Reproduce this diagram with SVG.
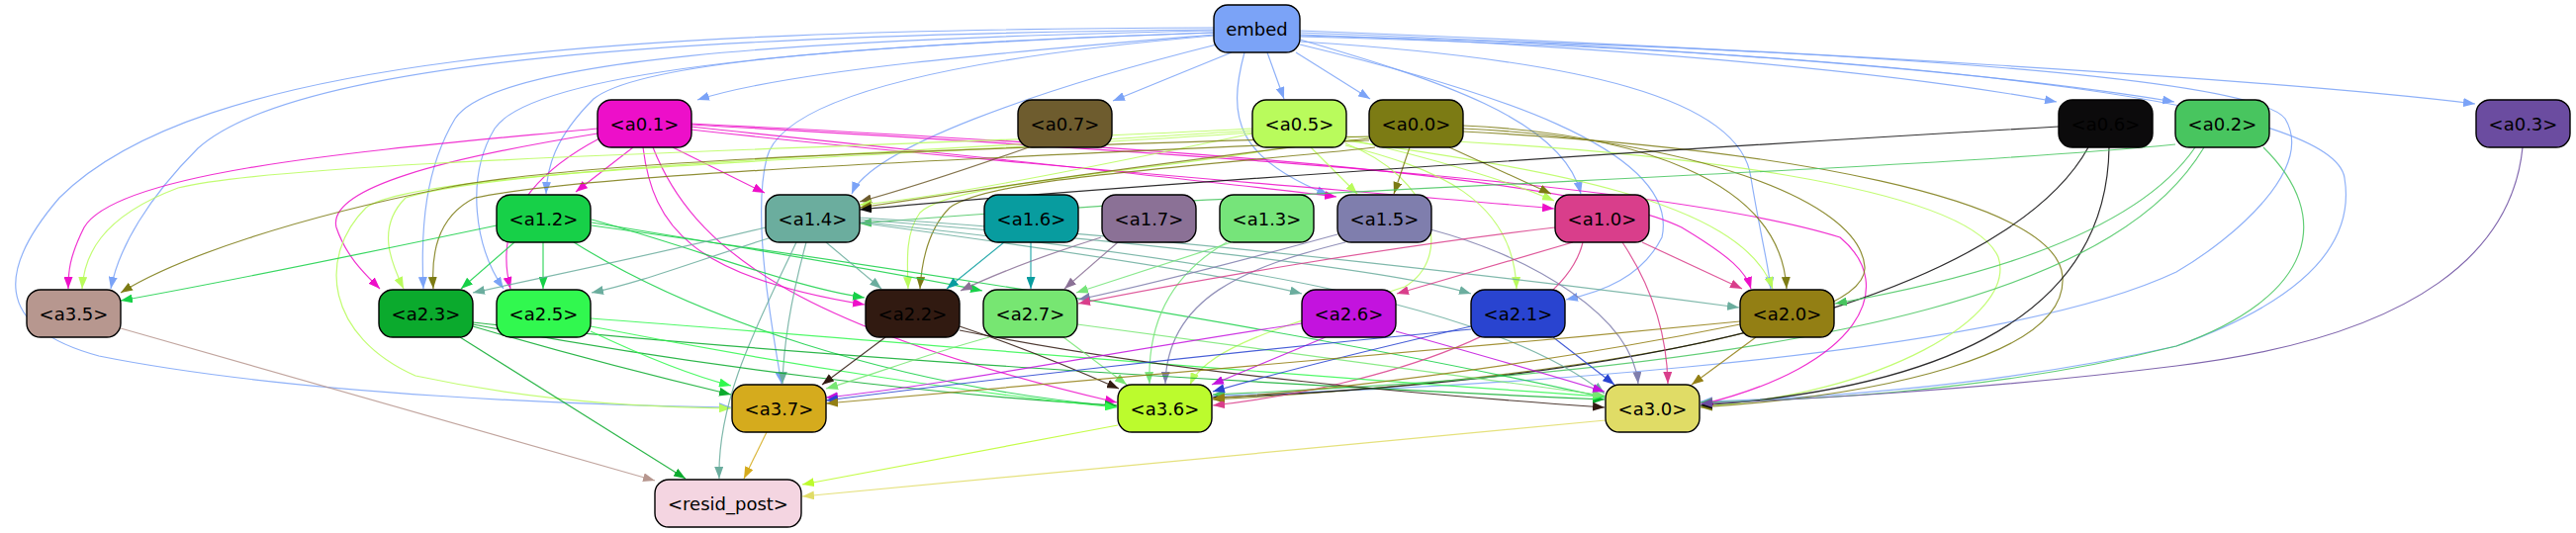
<svg xmlns="http://www.w3.org/2000/svg" width="2604" height="539" viewBox="0 0 2604 539">
<style>
.n rect{stroke:#000;stroke-width:1.4}
.n text{font-family:"DejaVu Sans",sans-serif;font-size:18px;text-anchor:middle;fill:#000}
.e path{fill:none;stroke-width:1.2;stroke-opacity:0.85}
.cE{stroke:#7BA3F7;marker-end:url(#mE)}
.c01{stroke:#ED0FC9;marker-end:url(#m01)}
.c07{stroke:#6E5C2E;marker-end:url(#m07)}
.c05{stroke:#B9FB5C;marker-end:url(#m05)}
.c00{stroke:#7C7B14;marker-end:url(#m00)}
.c06{stroke:#0C0B0C;marker-end:url(#m06)}
.c02{stroke:#48C55F;marker-end:url(#m02)}
.c03{stroke:#6B4CA0;marker-end:url(#m03)}
.c12{stroke:#17D048;marker-end:url(#m12)}
.c14{stroke:#6BAD9E;marker-end:url(#m14)}
.c16{stroke:#089C9F;marker-end:url(#m16)}
.c17{stroke:#8B7196;marker-end:url(#m17)}
.c13{stroke:#76E47A;marker-end:url(#m13)}
.c15{stroke:#7F7EAD;marker-end:url(#m15)}
.c10{stroke:#D93E8B;marker-end:url(#m10)}
.c35{stroke:#B7978F;marker-end:url(#m35)}
.c23{stroke:#0BAA2D;marker-end:url(#m23)}
.c25{stroke:#31F84F;marker-end:url(#m25)}
.c22{stroke:#311A11;marker-end:url(#m22)}
.c27{stroke:#77E672;marker-end:url(#m27)}
.c26{stroke:#C313DE;marker-end:url(#m26)}
.c21{stroke:#2944D0;marker-end:url(#m21)}
.c20{stroke:#937F14;marker-end:url(#m20)}
.c37{stroke:#D5AB1D;marker-end:url(#m37)}
.c36{stroke:#BCFB2D;marker-end:url(#m36)}
.c30{stroke:#E0DC66;marker-end:url(#m30)}
</style>
<defs>
<marker id="mE" viewBox="0 0 12 9" refX="12" refY="4.5" markerWidth="12" markerHeight="9" markerUnits="userSpaceOnUse" orient="auto"><path d="M0,0L12,4.5L0,9z" fill="#7BA3F7"/></marker>
<marker id="m01" viewBox="0 0 12 9" refX="12" refY="4.5" markerWidth="12" markerHeight="9" markerUnits="userSpaceOnUse" orient="auto"><path d="M0,0L12,4.5L0,9z" fill="#ED0FC9"/></marker>
<marker id="m07" viewBox="0 0 12 9" refX="12" refY="4.5" markerWidth="12" markerHeight="9" markerUnits="userSpaceOnUse" orient="auto"><path d="M0,0L12,4.5L0,9z" fill="#6E5C2E"/></marker>
<marker id="m05" viewBox="0 0 12 9" refX="12" refY="4.5" markerWidth="12" markerHeight="9" markerUnits="userSpaceOnUse" orient="auto"><path d="M0,0L12,4.5L0,9z" fill="#B9FB5C"/></marker>
<marker id="m00" viewBox="0 0 12 9" refX="12" refY="4.5" markerWidth="12" markerHeight="9" markerUnits="userSpaceOnUse" orient="auto"><path d="M0,0L12,4.5L0,9z" fill="#7C7B14"/></marker>
<marker id="m06" viewBox="0 0 12 9" refX="12" refY="4.5" markerWidth="12" markerHeight="9" markerUnits="userSpaceOnUse" orient="auto"><path d="M0,0L12,4.5L0,9z" fill="#0C0B0C"/></marker>
<marker id="m02" viewBox="0 0 12 9" refX="12" refY="4.5" markerWidth="12" markerHeight="9" markerUnits="userSpaceOnUse" orient="auto"><path d="M0,0L12,4.5L0,9z" fill="#48C55F"/></marker>
<marker id="m03" viewBox="0 0 12 9" refX="12" refY="4.5" markerWidth="12" markerHeight="9" markerUnits="userSpaceOnUse" orient="auto"><path d="M0,0L12,4.5L0,9z" fill="#6B4CA0"/></marker>
<marker id="m12" viewBox="0 0 12 9" refX="12" refY="4.5" markerWidth="12" markerHeight="9" markerUnits="userSpaceOnUse" orient="auto"><path d="M0,0L12,4.5L0,9z" fill="#17D048"/></marker>
<marker id="m14" viewBox="0 0 12 9" refX="12" refY="4.5" markerWidth="12" markerHeight="9" markerUnits="userSpaceOnUse" orient="auto"><path d="M0,0L12,4.5L0,9z" fill="#6BAD9E"/></marker>
<marker id="m16" viewBox="0 0 12 9" refX="12" refY="4.5" markerWidth="12" markerHeight="9" markerUnits="userSpaceOnUse" orient="auto"><path d="M0,0L12,4.5L0,9z" fill="#089C9F"/></marker>
<marker id="m17" viewBox="0 0 12 9" refX="12" refY="4.5" markerWidth="12" markerHeight="9" markerUnits="userSpaceOnUse" orient="auto"><path d="M0,0L12,4.5L0,9z" fill="#8B7196"/></marker>
<marker id="m13" viewBox="0 0 12 9" refX="12" refY="4.5" markerWidth="12" markerHeight="9" markerUnits="userSpaceOnUse" orient="auto"><path d="M0,0L12,4.5L0,9z" fill="#76E47A"/></marker>
<marker id="m15" viewBox="0 0 12 9" refX="12" refY="4.5" markerWidth="12" markerHeight="9" markerUnits="userSpaceOnUse" orient="auto"><path d="M0,0L12,4.5L0,9z" fill="#7F7EAD"/></marker>
<marker id="m10" viewBox="0 0 12 9" refX="12" refY="4.5" markerWidth="12" markerHeight="9" markerUnits="userSpaceOnUse" orient="auto"><path d="M0,0L12,4.5L0,9z" fill="#D93E8B"/></marker>
<marker id="m35" viewBox="0 0 12 9" refX="12" refY="4.5" markerWidth="12" markerHeight="9" markerUnits="userSpaceOnUse" orient="auto"><path d="M0,0L12,4.5L0,9z" fill="#B7978F"/></marker>
<marker id="m23" viewBox="0 0 12 9" refX="12" refY="4.5" markerWidth="12" markerHeight="9" markerUnits="userSpaceOnUse" orient="auto"><path d="M0,0L12,4.5L0,9z" fill="#0BAA2D"/></marker>
<marker id="m25" viewBox="0 0 12 9" refX="12" refY="4.5" markerWidth="12" markerHeight="9" markerUnits="userSpaceOnUse" orient="auto"><path d="M0,0L12,4.5L0,9z" fill="#31F84F"/></marker>
<marker id="m22" viewBox="0 0 12 9" refX="12" refY="4.5" markerWidth="12" markerHeight="9" markerUnits="userSpaceOnUse" orient="auto"><path d="M0,0L12,4.5L0,9z" fill="#311A11"/></marker>
<marker id="m27" viewBox="0 0 12 9" refX="12" refY="4.5" markerWidth="12" markerHeight="9" markerUnits="userSpaceOnUse" orient="auto"><path d="M0,0L12,4.5L0,9z" fill="#77E672"/></marker>
<marker id="m26" viewBox="0 0 12 9" refX="12" refY="4.5" markerWidth="12" markerHeight="9" markerUnits="userSpaceOnUse" orient="auto"><path d="M0,0L12,4.5L0,9z" fill="#C313DE"/></marker>
<marker id="m21" viewBox="0 0 12 9" refX="12" refY="4.5" markerWidth="12" markerHeight="9" markerUnits="userSpaceOnUse" orient="auto"><path d="M0,0L12,4.5L0,9z" fill="#2944D0"/></marker>
<marker id="m20" viewBox="0 0 12 9" refX="12" refY="4.5" markerWidth="12" markerHeight="9" markerUnits="userSpaceOnUse" orient="auto"><path d="M0,0L12,4.5L0,9z" fill="#937F14"/></marker>
<marker id="m37" viewBox="0 0 12 9" refX="12" refY="4.5" markerWidth="12" markerHeight="9" markerUnits="userSpaceOnUse" orient="auto"><path d="M0,0L12,4.5L0,9z" fill="#D5AB1D"/></marker>
<marker id="m36" viewBox="0 0 12 9" refX="12" refY="4.5" markerWidth="12" markerHeight="9" markerUnits="userSpaceOnUse" orient="auto"><path d="M0,0L12,4.5L0,9z" fill="#BCFB2D"/></marker>
<marker id="m30" viewBox="0 0 12 9" refX="12" refY="4.5" markerWidth="12" markerHeight="9" markerUnits="userSpaceOnUse" orient="auto"><path d="M0,0L12,4.5L0,9z" fill="#E0DC66"/></marker>
</defs>
<rect width="2604" height="539" fill="#fff"/>
<g id="edges" class="e">
<path class="cE" d="M1227,35 C1050,50 800,70 705,101"/>
<path class="cE" d="M1245,53 L1125,102"/>
<path class="cE" d="M1281,53 L1298,100"/>
<path class="cE" d="M1310,53 L1385,100"/>
<path class="cE" d="M1314,35 C1600,45 1900,70 2079,103"/>
<path class="cE" d="M1314,33 C1650,45 2000,70 2198,103"/>
<path class="cE" d="M1314,31 C1800,50 2300,80 2502,105"/>
<path class="cE" d="M1227,33 C900,45 650,60 600,100 C560,140 553,170 552,196"/>
<path class="cE" d="M1230,45 C1050,90 880,150 861,196"/>
<path class="cE" d="M1258,53 C1240,120 1250,160 1343,197"/>
<path class="cE" d="M1314,40 C1450,80 1580,120 1598,196"/>
<path class="cE" d="M1227,30 C700,35 300,60 200,150 C150,200 120,250 112,292"/>
<path class="cE" d="M1227,28 C600,30 200,60 60,200 C0,270 -10,330 100,360 C300,400 600,410 739,412"/>
<path class="cE" d="M1227,31 C800,40 500,60 460,120 C430,170 425,230 428,292"/>
<path class="cE" d="M1227,33 C850,45 540,70 500,130 C470,180 480,250 509,292"/>
<path class="cE" d="M1227,36 C950,60 790,100 775,160 C760,220 780,330 790,388"/>
<path class="cE" d="M1314,45 C1500,90 1700,150 1680,240 C1660,280 1620,295 1583,303"/>
<path class="cE" d="M1314,42 C1600,60 1760,100 1770,180 C1780,240 1788,270 1790,292"/>
<path class="cE" d="M1314,36 C1900,50 2280,80 2310,120 C2340,170 2260,240 2200,275 C2000,370 1400,395 1226,400"/>
<path class="cE" d="M1314,37 C2000,55 2360,110 2370,180 C2380,240 2340,300 2200,350 C2000,395 1800,404 1719,406"/>
<path class="c01" d="M640,149 L582,194"/>
<path class="c01" d="M680,149 L773,195"/>
<path class="c01" d="M698,128 C900,150 1200,180 1351,199"/>
<path class="c01" d="M698,131 C1000,165 1400,195 1571,211"/>
<path class="c01" d="M604,130 C400,150 120,170 85,230 C70,260 69,275 69,292"/>
<path class="c01" d="M604,135 C450,160 330,190 340,230 C350,260 370,278 384,292"/>
<path class="c01" d="M606,140 C530,180 500,230 516,292"/>
<path class="c01" d="M650,149 C660,230 700,280 874,308"/>
<path class="c01" d="M660,149 C700,250 800,330 1129,407"/>
<path class="c01" d="M698,125 C1200,150 1600,180 1700,230 C1750,260 1765,275 1770,292"/>
<path class="c01" d="M698,126 C1300,160 1700,190 1860,240 C1920,290 1880,370 1720,409"/>
<path class="c07" d="M1040,149 C980,170 920,190 869,204"/>
<path class="c05" d="M1266,135 C1100,170 950,200 869,207"/>
<path class="c05" d="M1266,130 C900,150 300,160 180,190 C100,220 85,260 83,292"/>
<path class="c05" d="M1266,132 C900,155 500,170 410,200 C380,230 395,265 408,292"/>
<path class="c05" d="M1300,149 C1150,175 960,185 930,215 C915,235 917,265 918,292"/>
<path class="c05" d="M1266,134 C900,160 420,170 370,210 C320,260 330,340 420,380 C560,410 680,412 739,413"/>
<path class="c05" d="M1325,149 L1372,196"/>
<path class="c05" d="M1360,140 C1450,160 1530,185 1571,203"/>
<path class="c05" d="M1360,147 C1450,170 1530,200 1533,292"/>
<path class="c05" d="M1360,142 C1550,170 1760,200 1792,292"/>
<path class="c05" d="M1360,145 C1450,180 1470,260 1420,290 C1300,330 1220,350 1203,389"/>
<path class="c05" d="M1360,138 C1700,150 1990,190 2020,260 C2040,320 1900,400 1719,411"/>
<path class="c00" d="M1384,140 C1200,160 1000,190 869,210"/>
<path class="c00" d="M1384,138 C1000,150 600,160 450,190 C300,220 180,260 122,296"/>
<path class="c00" d="M1384,142 C1000,160 600,175 480,200 C440,220 436,260 438,292"/>
<path class="c00" d="M1390,149 C1200,170 1000,180 960,210 C940,230 932,260 930,292"/>
<path class="c00" d="M1425,149 L1409,196"/>
<path class="c00" d="M1465,149 L1568,196"/>
<path class="c00" d="M1479,127 C1650,135 1800,180 1806,292"/>
<path class="c00" d="M1479,130 C1700,140 1880,200 1885,270 C1890,340 1500,390 1226,404"/>
<path class="c00" d="M1479,133 C1800,150 2080,200 2085,280 C2090,360 1900,400 1719,412"/>
<path class="c06" d="M2081,128 C1700,150 1100,190 869,212"/>
<path class="c06" d="M2111,149 C2050,260 1800,380 1226,402"/>
<path class="c06" d="M2132,149 C2130,300 2000,390 1719,410"/>
<path class="c02" d="M2219,149 C2150,250 1950,290 1855,307"/>
<path class="c02" d="M2228,149 C2150,280 1900,370 1226,399"/>
<path class="c02" d="M2288,149 C2360,220 2340,300 2200,350 C2000,400 1800,405 1719,407"/>
<path class="c02" d="M2199,146 C1900,175 1300,190 869,226"/>
<path class="c03" d="M2550,149 C2540,250 2450,340 2200,370 C2000,395 1800,405 1719,408"/>
<path class="c12" d="M502,228 C350,260 200,290 122,304"/>
<path class="c12" d="M520,245 L466,292"/>
<path class="c12" d="M549,245 L549,292"/>
<path class="c12" d="M598,225 C750,250 900,275 993,294"/>
<path class="c12" d="M598,222 C700,250 800,290 874,301"/>
<path class="c12" d="M580,245 C700,320 900,390 1129,411"/>
<path class="c12" d="M598,228 C900,270 1300,330 1622,402"/>
<path class="c14" d="M774,230 C650,260 550,280 478,296"/>
<path class="c14" d="M780,240 C700,265 650,285 598,296"/>
<path class="c14" d="M835,245 L891,292"/>
<path class="c14" d="M815,245 C800,300 792,350 791,388"/>
<path class="c14" d="M805,245 C770,320 725,400 727,484"/>
<path class="c14" d="M868,225 C1050,250 1250,280 1316,297"/>
<path class="c14" d="M868,222 C1100,240 1400,270 1487,297"/>
<path class="c14" d="M868,220 C1200,240 1600,290 1758,311"/>
<path class="c14" d="M868,224 C1200,260 1500,300 1622,398"/>
<path class="c16" d="M1015,245 L957,292"/>
<path class="c16" d="M1042,245 L1042,292"/>
<path class="c17" d="M1113,240 C1050,260 1000,280 971,294"/>
<path class="c17" d="M1130,245 L1076,292"/>
<path class="c13" d="M1245,245 L1088,296"/>
<path class="c13" d="M1240,245 C1180,280 1160,330 1162,388"/>
<path class="c15" d="M1352,237 C1250,265 1150,290 1090,303"/>
<path class="c15" d="M1360,245 C1260,270 1180,300 1178,388"/>
<path class="c15" d="M1446,232 C1550,260 1650,320 1656,388"/>
<path class="c10" d="M1572,230 C1400,250 1200,285 1090,307"/>
<path class="c10" d="M1590,245 L1412,297"/>
<path class="c10" d="M1600,245 C1580,330 1400,390 1226,410"/>
<path class="c10" d="M1640,245 C1670,290 1685,340 1686,388"/>
<path class="c10" d="M1660,245 L1761,292"/>
<path class="c35" d="M122,332 L662,486"/>
<path class="c23" d="M465,341 L693,484"/>
<path class="c23" d="M478,330 C580,360 680,385 739,399"/>
<path class="c23" d="M478,328 C700,370 950,400 1129,410"/>
<path class="c23" d="M478,326 C800,360 1300,390 1622,404"/>
<path class="c25" d="M597,335 C650,360 700,380 739,390"/>
<path class="c25" d="M597,330 C800,370 1000,400 1129,412"/>
<path class="c25" d="M597,322 C900,345 1300,380 1622,401"/>
<path class="c22" d="M895,341 L831,389"/>
<path class="c22" d="M970,330 C1030,350 1090,375 1131,393"/>
<path class="c22" d="M970,334 C1200,380 1450,400 1622,412"/>
<path class="c27" d="M1000,341 C930,360 880,380 835,393"/>
<path class="c27" d="M1075,341 L1139,389"/>
<path class="c27" d="M1089,328 C1300,355 1500,385 1622,400"/>
<path class="c26" d="M1316,327 C1100,360 950,390 835,402"/>
<path class="c26" d="M1340,341 L1225,389"/>
<path class="c26" d="M1411,335 C1500,360 1570,380 1622,396"/>
<path class="c21" d="M1487,330 C1380,355 1280,380 1226,396"/>
<path class="c21" d="M1570,341 L1632,389"/>
<path class="c21" d="M1487,333 C1200,360 950,390 835,405"/>
<path class="c20" d="M1759,325 C1400,360 1000,395 835,408"/>
<path class="c20" d="M1759,328 C1600,360 1400,390 1226,403"/>
<path class="c20" d="M1775,341 L1710,389"/>
<path class="c37" d="M775,437 L752,484"/>
<path class="c36" d="M1130,430 L811,490"/>
<path class="c30" d="M1623,425 L811,502"/>
</g>
<g id="embed" class="n"><rect x="1227" y="5" width="87" height="48" rx="14" fill="#7BA3F7"/><text x="1270.5" y="35.5">embed</text></g>
<g id="a0.1" class="n"><rect x="604" y="101" width="95" height="48" rx="14" fill="#ED0FC9"/><text x="651.5" y="131.5">&lt;a0.1&gt;</text></g>
<g id="a0.7" class="n"><rect x="1029" y="101" width="95" height="48" rx="14" fill="#6E5C2E"/><text x="1076.5" y="131.5">&lt;a0.7&gt;</text></g>
<g id="a0.5" class="n"><rect x="1266" y="101" width="95" height="48" rx="14" fill="#B9FB5C"/><text x="1313.5" y="131.5">&lt;a0.5&gt;</text></g>
<g id="a0.0" class="n"><rect x="1384" y="101" width="95" height="48" rx="14" fill="#7C7B14"/><text x="1431.5" y="131.5">&lt;a0.0&gt;</text></g>
<g id="a0.6" class="n"><rect x="2081" y="101" width="95" height="48" rx="14" fill="#0C0B0C"/><text x="2128.5" y="131.5">&lt;a0.6&gt;</text></g>
<g id="a0.2" class="n"><rect x="2199" y="101" width="95" height="48" rx="14" fill="#48C55F"/><text x="2246.5" y="131.5">&lt;a0.2&gt;</text></g>
<g id="a0.3" class="n"><rect x="2503" y="101" width="95" height="48" rx="14" fill="#6B4CA0"/><text x="2550.5" y="131.5">&lt;a0.3&gt;</text></g>
<g id="a1.2" class="n"><rect x="502" y="197" width="95" height="48" rx="14" fill="#17D048"/><text x="549.5" y="227.5">&lt;a1.2&gt;</text></g>
<g id="a1.4" class="n"><rect x="774" y="197" width="95" height="48" rx="14" fill="#6BAD9E"/><text x="821.5" y="227.5">&lt;a1.4&gt;</text></g>
<g id="a1.6" class="n"><rect x="995" y="197" width="95" height="48" rx="14" fill="#089C9F"/><text x="1042.5" y="227.5">&lt;a1.6&gt;</text></g>
<g id="a1.7" class="n"><rect x="1114" y="197" width="95" height="48" rx="14" fill="#8B7196"/><text x="1161.5" y="227.5">&lt;a1.7&gt;</text></g>
<g id="a1.3" class="n"><rect x="1233" y="197" width="95" height="48" rx="14" fill="#76E47A"/><text x="1280.5" y="227.5">&lt;a1.3&gt;</text></g>
<g id="a1.5" class="n"><rect x="1352" y="197" width="95" height="48" rx="14" fill="#7F7EAD"/><text x="1399.5" y="227.5">&lt;a1.5&gt;</text></g>
<g id="a1.0" class="n"><rect x="1572" y="197" width="95" height="48" rx="14" fill="#D93E8B"/><text x="1619.5" y="227.5">&lt;a1.0&gt;</text></g>
<g id="a3.5" class="n"><rect x="27" y="293" width="95" height="48" rx="14" fill="#B7978F"/><text x="74.5" y="323.5">&lt;a3.5&gt;</text></g>
<g id="a2.3" class="n"><rect x="383" y="293" width="95" height="48" rx="14" fill="#0BAA2D"/><text x="430.5" y="323.5">&lt;a2.3&gt;</text></g>
<g id="a2.5" class="n"><rect x="502" y="293" width="95" height="48" rx="14" fill="#31F84F"/><text x="549.5" y="323.5">&lt;a2.5&gt;</text></g>
<g id="a2.2" class="n"><rect x="875" y="293" width="95" height="48" rx="14" fill="#311A11"/><text x="922.5" y="323.5">&lt;a2.2&gt;</text></g>
<g id="a2.7" class="n"><rect x="994" y="293" width="95" height="48" rx="14" fill="#77E672"/><text x="1041.5" y="323.5">&lt;a2.7&gt;</text></g>
<g id="a2.6" class="n"><rect x="1316" y="293" width="95" height="48" rx="14" fill="#C313DE"/><text x="1363.5" y="323.5">&lt;a2.6&gt;</text></g>
<g id="a2.1" class="n"><rect x="1487" y="293" width="95" height="48" rx="14" fill="#2944D0"/><text x="1534.5" y="323.5">&lt;a2.1&gt;</text></g>
<g id="a2.0" class="n"><rect x="1759" y="293" width="95" height="48" rx="14" fill="#937F14"/><text x="1806.5" y="323.5">&lt;a2.0&gt;</text></g>
<g id="a3.7" class="n"><rect x="740" y="389" width="95" height="48" rx="14" fill="#D5AB1D"/><text x="787.5" y="419.5">&lt;a3.7&gt;</text></g>
<g id="a3.6" class="n"><rect x="1130" y="389" width="95" height="48" rx="14" fill="#BCFB2D"/><text x="1177.5" y="419.5">&lt;a3.6&gt;</text></g>
<g id="a3.0" class="n"><rect x="1623" y="389" width="95" height="48" rx="14" fill="#E0DC66"/><text x="1670.5" y="419.5">&lt;a3.0&gt;</text></g>
<g id="resid_post" class="n"><rect x="662" y="485" width="148" height="48" rx="14" fill="#F4D5E1"/><text x="736" y="515.5">&lt;resid_post&gt;</text></g>
</svg>
